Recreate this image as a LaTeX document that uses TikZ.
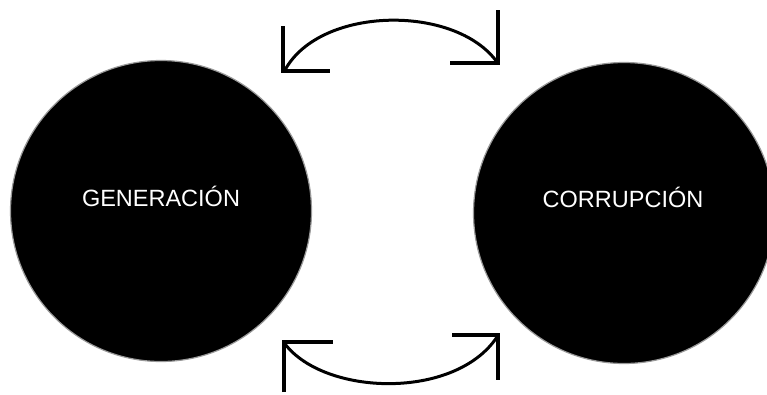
\documentclass[tikz,border=0pt]{standalone}
\usepackage{fontspec}
\setmainfont{Liberation Sans}
\begin{document}
\begin{tikzpicture}[x=1pt,y=-1pt,
  ball/.style={circle,fill=black,draw=black!40,line width=1.2pt,minimum size=301pt,inner sep=0pt},
  lbl/.style={text=white,font=\fontsize{23.5}{28}\selectfont,inner sep=0pt},
  arc/.style={line width=3pt},
  head/.style={line width=3.5pt,line join=miter,line cap=butt}]
\useasboundingbox (0,0) rectangle (767,394);
\begin{scope}
\clip (0,0) rectangle (767,394);
\node[ball] (gen) at (161,211) {};
\node[ball] (cor) at (624,213) {};
\end{scope}
\node[lbl] (genl) at (161,196) {GENERACIÓN};
\node[lbl] (corl) at (623,197) {CORRUPCIÓN};
% top arrow
\coordinate (ta) at (285,70);
\coordinate (tb) at (497,62);
\draw[arc] (ta) .. controls (320,6) and (455,4) .. (tb);
\draw[head] (283,26) -- (283,71) -- (330,71);
\draw[head] (498,10) -- (498,63) -- (450,63);
% bottom arrow
\coordinate (ba) at (285,344);
\coordinate (bb) at (497,337);
\draw[arc] (ba) .. controls (325,396) and (455,400) .. (bb);
\draw[head] (284,392) -- (284,342) -- (333,342);
\draw[head] (452,335) -- (498,335) -- (498,380);
\end{tikzpicture}
\end{document}
